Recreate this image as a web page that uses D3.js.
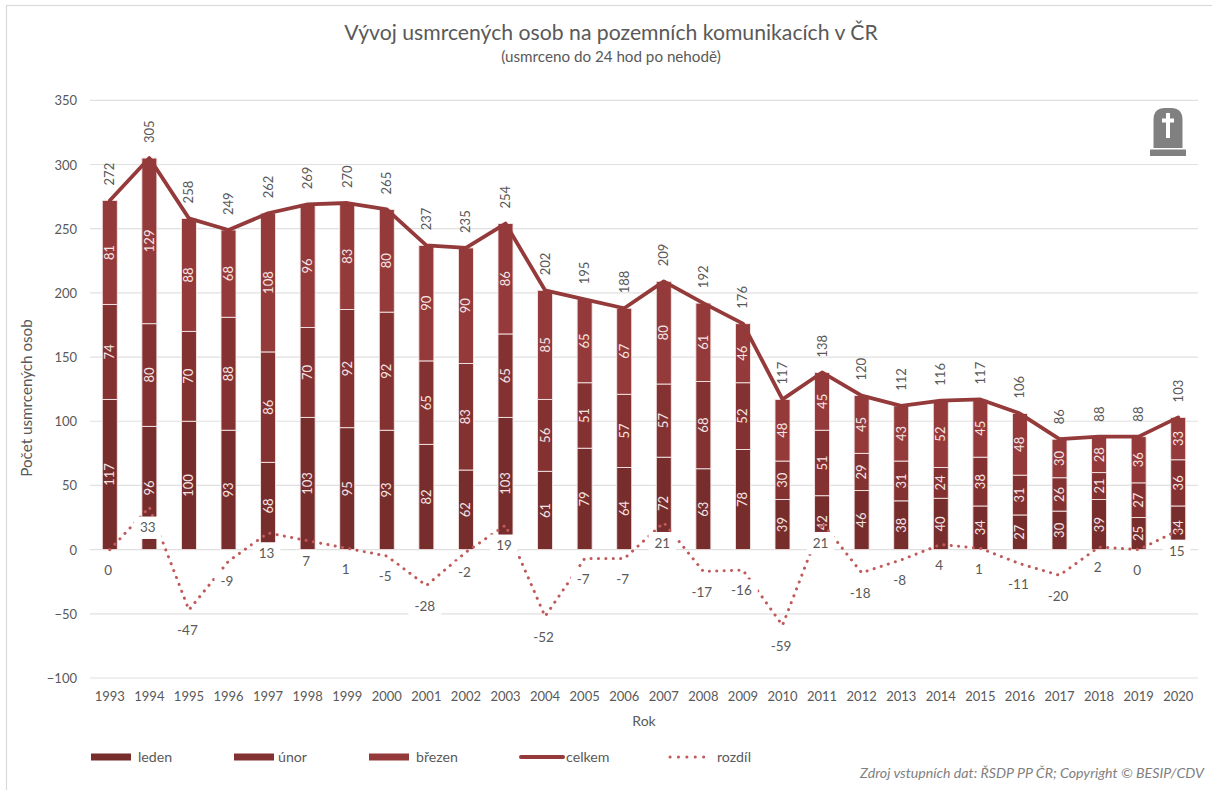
<!DOCTYPE html>
<html><head><meta charset="utf-8">
<script src="https://cdn.jsdelivr.net/npm/d3@7"></script>
<style>html,body{margin:0;padding:0;background:#fff}svg{display:block}text{font-family:Lato,"Open Sans",sans-serif}</style>
</head><body><div id="c"></div>
<script>
const years=[1993,1994,1995,1996,1997,1998,1999,2000,2001,2002,2003,2004,2005,2006,2007,2008,2009,2010,2011,2012,2013,2014,2015,2016,2017,2018,2019,2020];
const leden=[117,96,100,93,68,103,95,93,82,62,103,61,79,64,72,63,78,39,42,46,38,40,34,27,30,39,25,34];
const unor=[74,80,70,88,86,70,92,92,65,83,65,56,51,57,57,68,52,30,51,29,31,24,38,31,26,21,27,36];
const brezen=[81,129,88,68,108,96,83,80,90,90,86,85,65,67,80,61,46,48,45,45,43,52,45,48,30,28,36,33];
const celkem=[272,305,258,249,262,269,270,265,237,235,254,202,195,188,209,192,176,117,138,120,112,116,117,106,86,88,88,103];
const rozdil=[0,33,-47,-9,13,7,1,-5,-28,-2,19,-52,-7,-7,21,-17,-16,-59,21,-18,-8,4,1,-11,-20,2,0,15];
const yTicks=[-100,-50,0,50,100,150,200,250,300,350];
const seriesNames=["leden","únor","březen","celkem","rozdíl"];
const colors=["#782d2d","#843131","#953a3a"];
const lineColor="#953a3a",dotColor="#bf5a58",textColor="#595959";

const W=1212,H=790;
const svg=d3.select("#c").append("svg").attr("width",W).attr("height",H);
svg.append("rect").attr("x",6.5).attr("y",5.5).attr("width",1300).attr("height",1000).attr("fill","#fff").attr("stroke","#d9d9d9").attr("stroke-width",1.2);
const x=d3.scaleBand().domain(years).range([90,1198]);
const y=d3.scaleLinear().domain([-100,350]).range([678,100.3]);

const grid=svg.append("g");
grid.selectAll("line").data(yTicks).join("line").attr("x1",90).attr("x2",1198)
 .attr("y1",d=>y(d)).attr("y2",d=>y(d)).attr("stroke","#e0e0e0").attr("stroke-width",1.2);

const yAxis=d3.axisLeft(y).tickValues(yTicks).tickSize(0).tickPadding(0);
const ya=svg.append("g").attr("transform","translate(77,0)").call(yAxis);
ya.select(".domain").remove();
ya.selectAll("text").attr("font-size",13).attr("fill",textColor).attr("dy","0.35em");
const xAxis=d3.axisBottom(x).tickSize(0).tickPadding(0);
const xa=svg.append("g").attr("transform","translate(0,691.5)").call(xAxis);
xa.select(".domain").remove();
xa.selectAll("text").attr("font-size",13).attr("fill",textColor).attr("dy","0.71em");

const bw=15;
const stack=d3.stack().keys([0,1,2]).value((d,k)=>d[k]);
const rows=years.map((yr,i)=>[leden[i],unor[i],brezen[i]]);
const st=stack(rows);
st.forEach((s,k)=>{
 const g=svg.append("g");
 s.forEach((d,i)=>{
  const cx=x(years[i])+x.bandwidth()/2;
  g.append("rect").attr("x",cx-bw/2).attr("width",bw).attr("y",y(d[1])).attr("height",y(d[0])-y(d[1]))
   .attr("fill",colors[k]).attr("stroke","#f3e6e6").attr("stroke-width",0.9);
  g.append("text").attr("transform",`translate(${cx},${y((d[0]+d[1])/2)}) rotate(-90)`)
   .attr("text-anchor","middle").attr("dy","0.35em").attr("font-size",13).attr("fill","#f4e4e4").text(d[1]-d[0]);
 });
});
const cxf=(d,i)=>x(years[i])+x.bandwidth()/2;
const line=d3.line().x(cxf).y(d=>y(d));
svg.append("path").attr("d",line(celkem)).attr("fill","none").attr("stroke",lineColor).attr("stroke-width",3.8).attr("stroke-linejoin","round").attr("stroke-linecap","round");
svg.append("path").attr("d",line(rozdil)).attr("fill","none").attr("stroke",dotColor).attr("stroke-width",3).attr("stroke-linecap","round").attr("stroke-dasharray","0.1 7.3");

celkem.forEach((v,i)=>{
 svg.append("text").attr("transform",`translate(${cxf(v,i)},${y(v)-15}) rotate(-90)`).attr("dy","0.35em")
  .attr("font-size",13).attr("fill",textColor).text(v);
});
rozdil.forEach((v,i)=>{
 const cx=cxf(v,i)-1.5, cy=y(v)+20.5;
 const t=svg.append("text").attr("x",cx).attr("y",cy).attr("text-anchor","middle").attr("dy","0.35em")
  .attr("font-size",13.5).attr("fill",textColor).text(v);
 const w=t.node().getComputedTextLength()+12;
 svg.insert("rect",function(){return t.node();}).attr("x",cx-w/2).attr("y",cy-11.2).attr("width",w).attr("height",22.4).attr("fill","#fff");
});

svg.append("text").attr("x",611).attr("y",40).attr("text-anchor","middle").attr("font-size",21.2).attr("fill",textColor).text("Vývoj usmrcených osob na pozemních komunikacích v ČR");
svg.append("text").attr("x",611).attr("y",62).attr("text-anchor","middle").attr("font-size",15.2).attr("fill",textColor).text("(usmrceno do 24 hod po nehodě)");
svg.append("text").attr("x",644).attr("y",726).attr("text-anchor","middle").attr("font-size",14).attr("fill",textColor).text("Rok");
svg.append("text").attr("transform","translate(27,398) rotate(-90)").attr("text-anchor","middle").attr("dy","0.35em").attr("font-size",15.2).attr("fill",textColor).text("Počet usmrcených osob");

// legend
const lx=[91,234,369,520,669];
const lt=[47,44,47,46,48];
seriesNames.forEach((n,i)=>{
 const g=svg.append("g").attr("transform",`translate(${lx[i]},757)`);
 if(i<3) g.append("rect").attr("x",0).attr("y",-3.5).attr("width",40).attr("height",7).attr("fill",colors[i]);
 else g.append("line").attr("x1",i==3?1:1).attr("x2",43).attr("stroke",i==3?lineColor:dotColor).attr("stroke-width",i==3?4:3)
   .attr("stroke-linecap","round").attr("stroke-dasharray",i==3?null:"0.1 8.3");
 g.append("text").attr("x",lt[i]).attr("dy","0.35em").attr("font-size",14.2).attr("fill",textColor).text(n);
});
svg.append("text").attr("x",1204).attr("y",778).attr("text-anchor","end").attr("font-style","italic").attr("font-size",14.2).attr("fill","#7f7f7f").text("Zdroj vstupních dat: ŘSDP PP ČR; Copyright © BESIP/CDV");

// tombstone icon
const ic=svg.append("g").attr("transform","translate(1168,0)").attr("fill","#808080");
ic.append("path").attr("d","M-14.5,148 V120 Q-14.5,108 -3,108 H3 Q14.5,108 14.5,120 V148 Z");
ic.append("rect").attr("x",-18).attr("y",149.5).attr("width",36).attr("height",6.5);
ic.append("rect").attr("x",-2).attr("y",113).attr("width",4).attr("height",25).attr("fill","#fff");
ic.append("rect").attr("x",-6).attr("y",118.5).attr("width",12).attr("height",4).attr("fill","#fff");
</script></body></html>
